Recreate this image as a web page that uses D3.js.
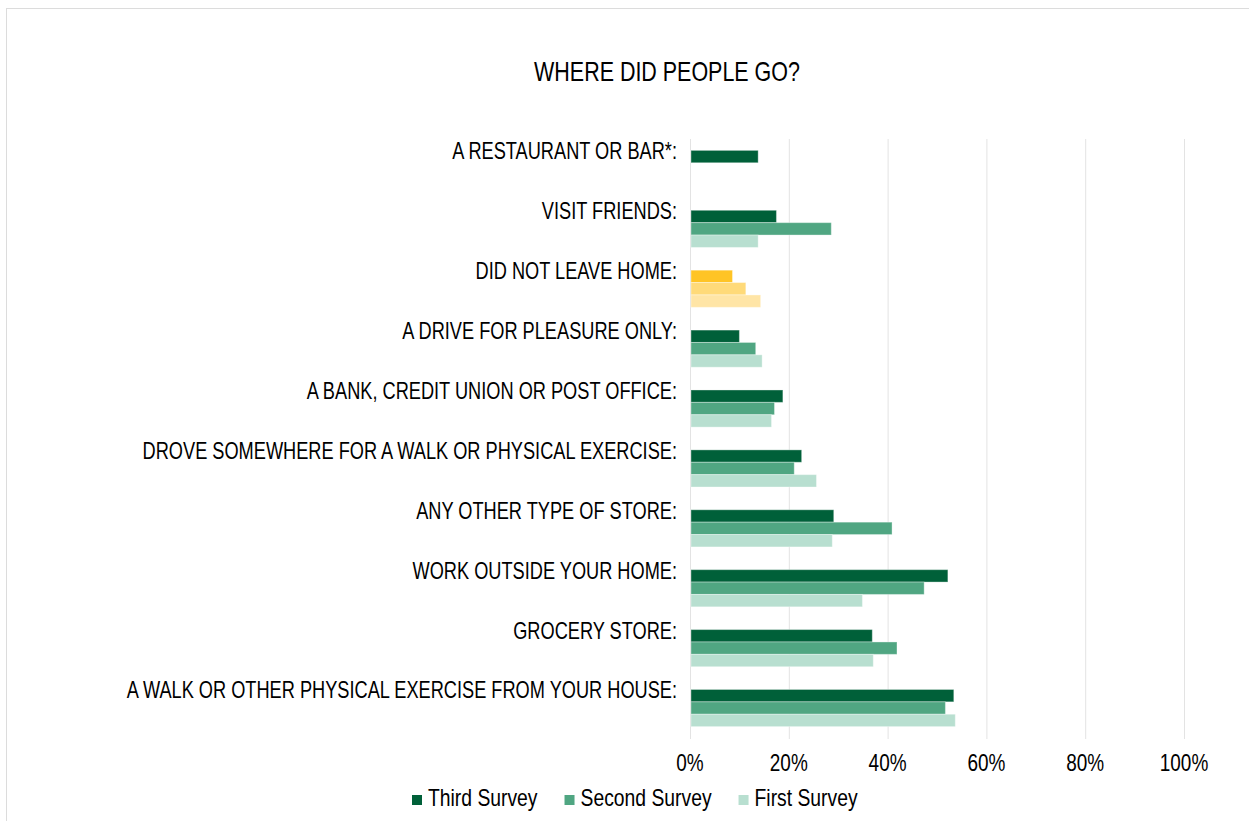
<!DOCTYPE html>
<html>
<head>
<meta charset="utf-8">
<script src="https://cdn.jsdelivr.net/npm/d3@7"></script>
<style>
  body { margin: 0; background: #fff; }
  text { font-family: "Liberation Sans", Arial, sans-serif; fill: #000; }
</style>
</head>
<body>
<div id="chart"></div>
<script>
// categories, top to bottom
var categories = [
  "A RESTAURANT OR BAR*:",
  "VISIT FRIENDS:",
  "DID NOT LEAVE HOME:",
  "A DRIVE FOR PLEASURE ONLY:",
  "A BANK, CREDIT UNION OR POST OFFICE:",
  "DROVE SOMEWHERE FOR A WALK OR PHYSICAL EXERCISE:",
  "ANY OTHER TYPE OF STORE:",
  "WORK OUTSIDE YOUR HOME:",
  "GROCERY STORE:",
  "A WALK OR OTHER PHYSICAL EXERCISE FROM YOUR HOUSE:"
];
var seriesNames = ["Third Survey", "Second Survey", "First Survey"];

// percent values, same order as categories (null = not asked)
var thirdSurvey  = [13.8, 17.5,  8.6, 10.0, 18.8, 22.6, 29.1, 52.2, 36.9, 53.4];
var secondSurvey = [null, 28.6, 11.3, 13.3, 17.1, 21.1, 40.9, 47.4, 41.9, 51.7];
var firstSurvey  = [null, 13.8, 14.3, 14.6, 16.5, 25.6, 28.8, 34.9, 37.1, 53.7];

var xTicks = [0, 20, 40, 60, 80, 100];
var highlighted = ["DID NOT LEAVE HOME:"];

var greens = ["#006039", "#50a682", "#b8dfd0"];
var yellows = ["#ffc425", "#ffda79", "#ffe5a6"];

// squeeze text horizontally, the original uses a condensed face
function condense(sel, f) {
  sel.each(function() {
    var len = this.getComputedTextLength();
    d3.select(this)
      .attr("textLength", len * f)
      .attr("lengthAdjust", "spacingAndGlyphs");
  });
}

var width = 1249, height = 821;
var svg = d3.select("#chart").append("svg")
    .attr("width", width)
    .attr("height", height);

// faint chart frame
svg.append("rect")
    .attr("x", 6.5).attr("y", 8.5)
    .attr("width", 1400).attr("height", 1000)
    .style("fill", "none")
    .style("stroke", "#dcdcdc");

svg.append("text")
    .attr("x", 667).attr("y", 81)
    .attr("text-anchor", "middle")
    .style("font-size", "27.5px")
    .text("WHERE DID PEOPLE GO?")
    .call(condense, 0.78);

var x = d3.scaleLinear().domain([0, 100]).range([690, 1184]);
var y = d3.scaleBand().domain(categories).range([139, 738])
    .paddingInner(0.38).paddingOuter(0.19);
var ySeries = d3.scaleBand().domain(seriesNames).range([0, y.bandwidth()]);

// gridlines
svg.append("g").selectAll("line")
  .data(xTicks)
  .enter().append("line")
    .attr("x1", function(d) { return x(d) + 0.5; })
    .attr("x2", function(d) { return x(d) + 0.5; })
    .attr("y1", 139).attr("y2", 739)
    .style("stroke", "#e3e3e3");

// x tick labels
svg.append("g").selectAll("text")
  .data(xTicks)
  .enter().append("text")
    .attr("x", function(d) { return x(d); })
    .attr("y", 771)
    .attr("text-anchor", "middle")
    .style("font-size", "24px")
    .text(function(d) { return d + "%"; })
    .call(condense, 0.79);

// category labels
svg.append("g").selectAll("text")
  .data(categories)
  .enter().append("text")
    .attr("x", 677)
    .attr("y", function(d) { return y(d) + 9; })
    .attr("text-anchor", "end")
    .style("font-size", "24px")
    .text(function(d) { return d; })
    .call(condense, 0.758);

var rows = [];
var allSeries = [thirdSurvey, secondSurvey, firstSurvey];
categories.forEach(function(cat, i) {
  allSeries.forEach(function(vals, s) {
    if (vals[i] != null) rows.push({cat: cat, series: seriesNames[s], s: s, value: vals[i]});
  });
});

svg.append("g").selectAll("rect")
  .data(rows)
  .enter().append("rect")
    .attr("x", x(0) + 1)
    .attr("y", function(d) { return y(d.cat) + ySeries(d.series); })
    .attr("width", function(d) { return x(d.value) - x(0) - 1; })
    .attr("height", ySeries.bandwidth())
    .style("fill", function(d) {
      return highlighted.indexOf(d.cat) >= 0 ? yellows[d.s] : greens[d.s];
    })
    .style("stroke", "#ffffff")
    .style("stroke-opacity", 0.35)
    .style("stroke-width", 1);

// legend
var legend = svg.append("g");
var lx = 412;
seriesNames.forEach(function(name, i) {
  legend.append("rect")
    .attr("x", lx).attr("y", 795)
    .attr("width", 10).attr("height", 10)
    .style("fill", greens[i]);
  var t = legend.append("text")
    .attr("x", lx + 16).attr("y", 806)
    .style("font-size", "24px")
    .text(name);
  var w = t.node().getComputedTextLength() * 0.805;
  t.attr("textLength", w).attr("lengthAdjust", "spacingAndGlyphs");
  lx += 16 + w + 27;
});
</script>
</body>
</html>
